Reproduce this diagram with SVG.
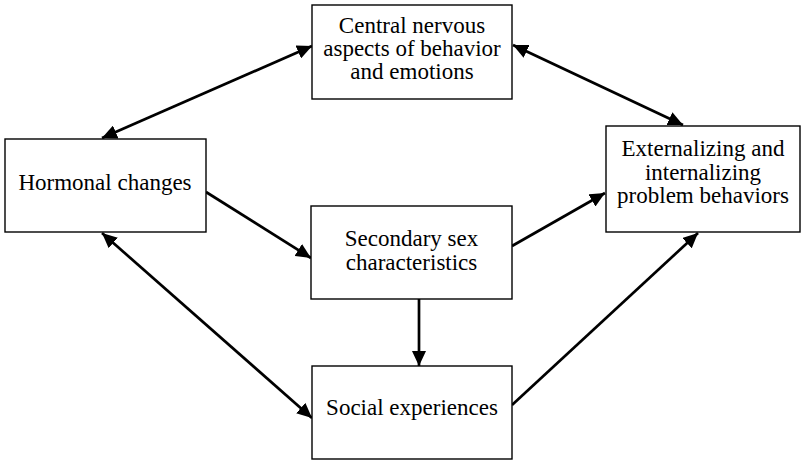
<svg xmlns="http://www.w3.org/2000/svg" width="804" height="461" viewBox="0 0 804 461">
<style>
.box{fill:#fff;stroke:#000;stroke-width:1.4}
.t{font-family:"Liberation Serif","Times New Roman",serif;font-size:23px;fill:#000;text-anchor:middle}
.c{stroke:#000;stroke-width:2.7;fill:none;marker-end:url(#ah)}
.bi{marker-start:url(#ah)}
</style>
<defs>
<marker id="ah" markerUnits="userSpaceOnUse" markerWidth="16" markerHeight="14" viewBox="0 0 16 14" refX="15" refY="7" orient="auto-start-reverse">
<path d="M0,0 L15,7 L0,14 Z" fill="#000"/>
</marker>
</defs>
<rect width="804" height="461" fill="#fff"/>
<g id="connectors">
<line class="c bi" x1="102" y1="138" x2="312" y2="46"/>
<line class="c bi" x1="513" y1="45" x2="683" y2="125"/>
<line class="c" x1="206" y1="192" x2="311" y2="258"/>
<line class="c" x1="512" y1="246" x2="605" y2="193"/>
<line class="c" x1="419" y1="299" x2="419" y2="366"/>
<line class="c bi" x1="102" y1="233" x2="312" y2="418"/>
<line class="c" x1="512" y1="405" x2="698" y2="233"/>
</g>
<g id="central">
<rect class="box" x="312" y="5" width="200" height="94"/>
<text class="t" x="412" y="33">Central nervous</text>
<text class="t" x="412" y="56">aspects of behavior</text>
<text class="t" x="412" y="79">and emotions</text>
</g>
<g id="hormonal">
<rect class="box" x="5" y="139" width="201" height="93"/>
<text class="t" x="105" y="190">Hormonal changes</text>
</g>
<g id="externalizing">
<rect class="box" x="606" y="126" width="194" height="106"/>
<text class="t" x="703" y="156">Externalizing and</text>
<text class="t" x="703" y="180">internalizing</text>
<text class="t" x="703" y="203">problem behaviors</text>
</g>
<g id="secondary">
<rect class="box" x="311" y="206" width="201" height="93"/>
<text class="t" x="411.5" y="246">Secondary sex</text>
<text class="t" x="411.5" y="270">characteristics</text>
</g>
<g id="social">
<rect class="box" x="312" y="366" width="200" height="93"/>
<text class="t" x="412" y="415">Social experiences</text>
</g>
</svg>
